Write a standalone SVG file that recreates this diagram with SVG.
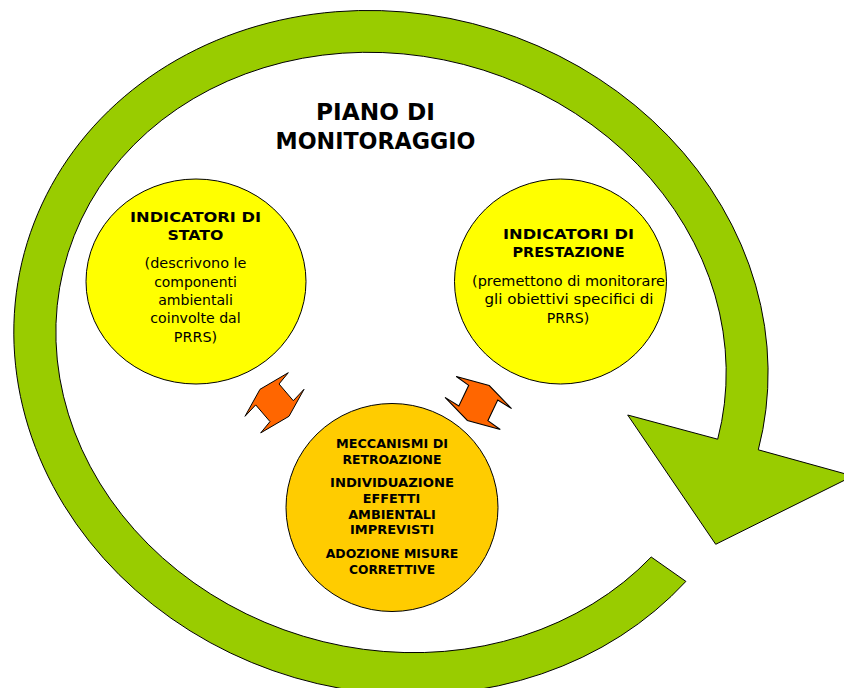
<svg xmlns="http://www.w3.org/2000/svg" width="844" height="688" viewBox="0 0 844 688">
<style>
.t{font-family:"DejaVu Sans","Liberation Sans",sans-serif;fill:#000;text-anchor:middle}
.b{font-weight:bold}
.ttl{font-size:23px}
.h{font-size:14.5px}
.n{font-size:14px}
.o{font-size:12.5px}
.yel{fill:#FFFF00;stroke:#000;stroke-width:1}
.org{fill:#FFCC00;stroke:#000;stroke-width:1}
.ring{fill:#99CC00;stroke:#000;stroke-width:1;stroke-linejoin:miter}
.dbl{fill:#FF6600;stroke:#000;stroke-width:1;stroke-linejoin:miter}
</style>
<defs>
<path id="dblArrow" d="M -14.5,-13.5 L 13.8,-30.1 L 4.5,-18.8 L 18.8,-2.1 L 29.5,-13.5 L 14.5,13.5 L -13.8,30.1 L -4.5,18.8 L -18.8,2.1 L -29.5,13.5 Z"/>
</defs>
<rect x="0" y="0" width="844" height="688" fill="#FFFFFF"/>
<g id="cycle-arrow">
<path class="ring" d="M 685.9,581.4 A 380 339 15.7 1 1 758.3,449.8 L 853,476 L 715.7,544.3 L 627.7,415 L 717.7,439.2 A 338 297 15.7 1 0 651.2,557 Z"/>
</g>
<g id="title">
<text class="t b ttl" x="375.5" y="119.5" textLength="119" lengthAdjust="spacingAndGlyphs">PIANO DI</text>
<text class="t b ttl" x="375.5" y="149" textLength="200" lengthAdjust="spacingAndGlyphs">MONITORAGGIO</text>
</g>
<g id="indicatori-stato">
<ellipse class="yel" cx="196" cy="281.5" rx="110" ry="102.5"/>
<text class="t b h" x="195.5" y="221.7" textLength="131" lengthAdjust="spacingAndGlyphs">INDICATORI DI</text>
<text class="t b h" x="195.5" y="240.3" textLength="56" lengthAdjust="spacingAndGlyphs">STATO</text>
<text class="t n" x="195.5" y="268" textLength="102" lengthAdjust="spacingAndGlyphs">(descrivono le</text>
<text class="t n" x="195.5" y="286.7" textLength="82.7" lengthAdjust="spacingAndGlyphs">componenti</text>
<text class="t n" x="195.5" y="305" textLength="74.7" lengthAdjust="spacingAndGlyphs">ambientali</text>
<text class="t n" x="195.5" y="323.3" textLength="90.3" lengthAdjust="spacingAndGlyphs">coinvolte dal</text>
<text class="t n" x="195.5" y="341.7" textLength="43.3" lengthAdjust="spacingAndGlyphs">PRRS)</text>
</g>
<g id="indicatori-prestazione">
<ellipse class="yel" cx="560.5" cy="281.5" rx="106" ry="102.5"/>
<text class="t b h" x="568.5" y="238.5" textLength="131" lengthAdjust="spacingAndGlyphs">INDICATORI DI</text>
<text class="t b h" x="568.5" y="256.7" textLength="112" lengthAdjust="spacingAndGlyphs">PRESTAZIONE</text>
<text class="t n" x="568.5" y="286" textLength="193" lengthAdjust="spacingAndGlyphs">(premettono di monitorare</text>
<text class="t n" x="569" y="304.3" textLength="169" lengthAdjust="spacingAndGlyphs">gli obiettivi specifici di</text>
<text class="t n" x="568" y="322.7" textLength="42.6" lengthAdjust="spacingAndGlyphs">PRRS)</text>
</g>
<g id="meccanismi-retroazione">
<ellipse class="org" cx="392" cy="507.5" rx="106" ry="104"/>
<text class="t b o" x="392" y="447.5" textLength="112" lengthAdjust="spacingAndGlyphs">MECCANISMI DI</text>
<text class="t b o" x="392" y="464" textLength="99" lengthAdjust="spacingAndGlyphs">RETROAZIONE</text>
<text class="t b o" x="392" y="487" textLength="124" lengthAdjust="spacingAndGlyphs">INDIVIDUAZIONE</text>
<text class="t b o" x="391.5" y="503" textLength="57.3" lengthAdjust="spacingAndGlyphs">EFFETTI</text>
<text class="t b o" x="392" y="519" textLength="87.7" lengthAdjust="spacingAndGlyphs">AMBIENTALI</text>
<text class="t b o" x="392" y="533.8" textLength="84" lengthAdjust="spacingAndGlyphs">IMPREVISTI</text>
<text class="t b o" x="392" y="558.3" textLength="132.6" lengthAdjust="spacingAndGlyphs">ADOZIONE MISURE</text>
<text class="t b o" x="392" y="574" textLength="86" lengthAdjust="spacingAndGlyphs">CORRETTIVE</text>
</g>
<g id="connectors">
<use href="#dblArrow" class="dbl" transform="translate(274.5,402.8)"/>
<use href="#dblArrow" class="dbl" transform="translate(478.3,403) rotate(-15) scale(-1.04,1.04)"/>
</g>
</svg>
